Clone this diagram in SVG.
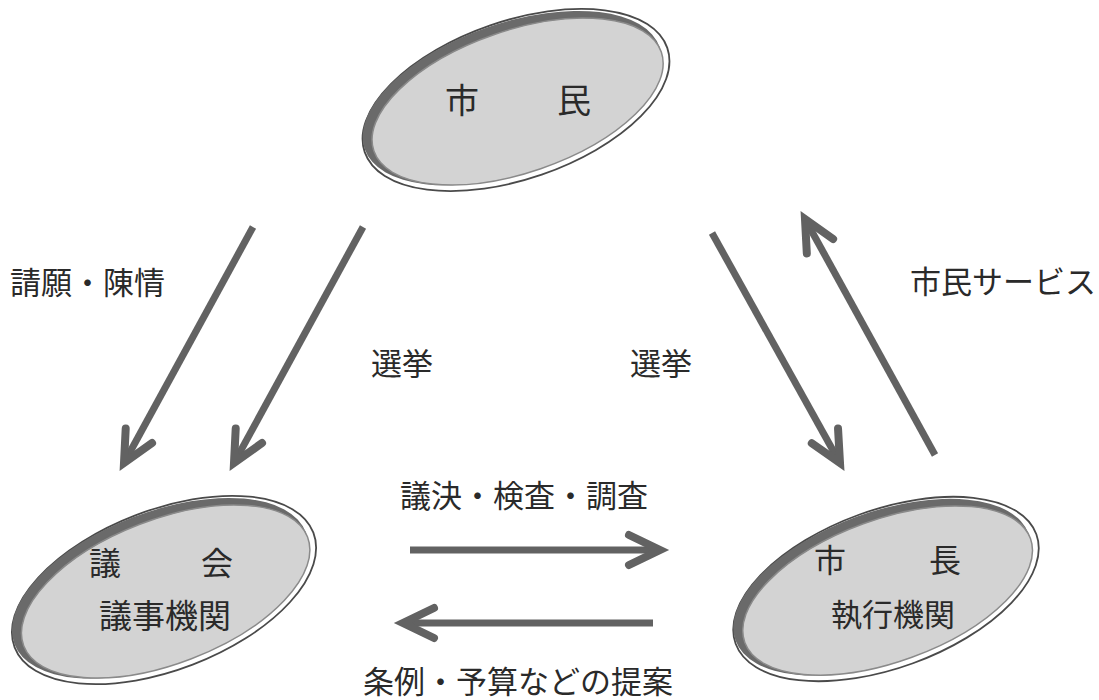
<svg xmlns="http://www.w3.org/2000/svg" width="1099" height="700" viewBox="0 0 1099 700">
<style>
.lbl{font-family:"Noto Sans CJK JP","Noto Sans CJK SC",sans-serif;fill:#2a2a2a;font-size:31px}
.nd{font-family:"Noto Sans CJK JP","Noto Sans CJK SC",sans-serif;fill:#2a2a2a}
.band{fill:#6a6a6a}
.body{fill:#d3d3d3;stroke:#8a8a8a;stroke-width:1.5}
.rim{fill:none;stroke:#4a4a4a;stroke-width:1.8}
.conn{stroke:#626262;stroke-width:7;fill:none;marker-end:url(#ah)}
</style>
<defs>
<marker id="ah" markerUnits="userSpaceOnUse" markerWidth="60" markerHeight="60" viewBox="-40 -30 60 60" refX="0" refY="0" orient="auto" overflow="visible">
<path d="M-31,-15 L0,0 L-31,15" fill="none" stroke="#626262" stroke-width="8" stroke-linecap="round" stroke-linejoin="miter"/>
</marker>
</defs>
<rect width="1099" height="700" fill="#ffffff"/>

<g id="connectors">
<path class="conn" d="M253,227 L124,463"/>
<path class="conn" d="M363,227 L234,463"/>
<path class="conn" d="M712,233 L840,463"/>
<path class="conn" d="M935,455 L805,219"/>
<path class="conn" d="M410,550 L660,550"/>
<path class="conn" d="M653,623 L403,623"/>
</g>

<g id="node-shimin">
<g transform="translate(516,100) rotate(-19)">
<ellipse class="rim" cx="0" cy="0" rx="160" ry="79"/>
<ellipse class="band" cx="-3" cy="-3" rx="156" ry="75"/>
<ellipse class="body" cx="1" cy="2" rx="152" ry="71"/>
</g>
<text class="nd" x="445" y="113" font-size="34">市</text>
<text class="nd" x="557" y="113" font-size="34">民</text>
</g>

<g id="node-gikai">
<g transform="translate(164,590) rotate(-21)">
<ellipse class="rim" cx="0" cy="0" rx="160" ry="80"/>
<ellipse class="band" cx="-3" cy="-3" rx="156" ry="76"/>
<ellipse class="body" cx="1" cy="2" rx="152" ry="72"/>
</g>
<text class="nd" x="89" y="575" font-size="32">議</text>
<text class="nd" x="201" y="575" font-size="32">会</text>
<text class="nd" x="99" y="628" font-size="33">議事機関</text>
</g>

<g id="node-shicho">
<g transform="translate(886,589) rotate(-20)">
<ellipse class="rim" cx="0" cy="0" rx="160" ry="79"/>
<ellipse class="band" cx="-3" cy="-3" rx="156" ry="75"/>
<ellipse class="body" cx="1" cy="2" rx="152" ry="71"/>
</g>
<text class="nd" x="814" y="572" font-size="32">市</text>
<text class="nd" x="929" y="572" font-size="32">長</text>
<text class="nd" x="831" y="626" font-size="31">執行機関</text>
</g>

<g id="labels">
<text class="lbl" x="10" y="294">請願・陳情</text>
<text class="lbl" x="371" y="375" font-size="30">選挙</text>
<text class="lbl" x="630" y="375" font-size="30">選挙</text>
<text class="lbl" x="910" y="293">市民サービス</text>
<text class="lbl" x="400" y="507">議決・検査・調査</text>
<text class="lbl" x="363" y="693">条例・予算などの提案</text>
</g>
</svg>
